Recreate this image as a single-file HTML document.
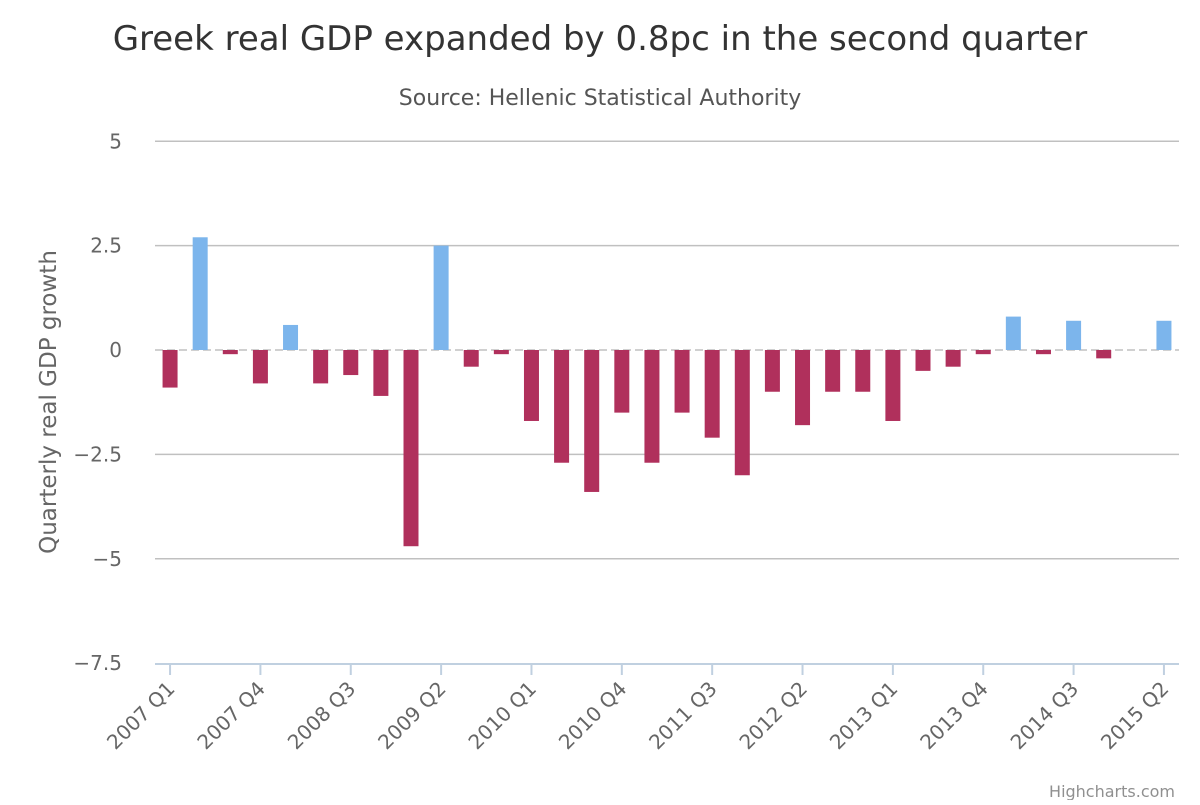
<!DOCTYPE html>
<html><head><meta charset="utf-8">
<style>
body{margin:0;background:#fff;font-family:"Liberation Sans","DejaVu Sans",sans-serif;}
svg text{font-family:"DejaVu Sans","Liberation Sans",sans-serif;}
</style></head>
<body>
<svg id="chart" width="1200" height="800" xmlns="http://www.w3.org/2000/svg">
<rect width="1200" height="800" fill="#fff"/>
<text x="600" y="50" text-anchor="middle" font-size="34" fill="#333">Greek real GDP expanded by 0.8pc in the second quarter</text>
<text x="600" y="105" text-anchor="middle" font-size="22" fill="#555">Source: Hellenic Statistical Authority</text>
<text transform="translate(56,402) rotate(-90)" text-anchor="middle" font-size="23" fill="#666">Quarterly real GDP growth</text>
<text x="1175" y="797" text-anchor="end" font-size="16" fill="#909090">Highcharts.com</text>
<g id="grid"></g><g id="bars"></g><g id="xaxis"></g>
</svg>
<script>
const categories=["2007 Q1","2007 Q2","2007 Q3","2007 Q4","2008 Q1","2008 Q2","2008 Q3","2008 Q4","2009 Q1","2009 Q2","2009 Q3","2009 Q4","2010 Q1","2010 Q2","2010 Q3","2010 Q4","2011 Q1","2011 Q2","2011 Q3","2011 Q4","2012 Q1","2012 Q2","2012 Q3","2012 Q4","2013 Q1","2013 Q2","2013 Q3","2013 Q4","2014 Q1","2014 Q2","2014 Q3","2014 Q4","2015 Q1","2015 Q2"];
const growth=[-0.9,2.7,-0.1,-0.8,0.6,-0.8,-0.6,-1.1,-4.7,2.5,-0.4,-0.1,-1.7,-2.7,-3.4,-1.5,-2.7,-1.5,-2.1,-3.0,-1.0,-1.8,-1.0,-1.0,-1.7,-0.5,-0.4,-0.1,0.8,-0.1,0.7,-0.2,0,0.7];
const yTicks=[5,2.5,0,-2.5,-5,-7.5];
const yTickLabels=["5","2.5","0","−2.5","−5","−7.5"];
const NS="http://www.w3.org/2000/svg";
const L=155,R=1179,Y0=350,PPU=41.75;
const step=(R-L)/categories.length;
const x=i=>L+step*(i+0.5);
const y=v=>Y0-v*PPU;
function mk(t,a,p){const e=document.createElementNS(NS,t);for(const k in a)e.setAttribute(k,a[k]);p.appendChild(e);return e;}
const grid=document.getElementById('grid'),bars=document.getElementById('bars'),xa=document.getElementById('xaxis');
yTicks.forEach((v,i)=>{
  if(v>-7.5){const g=mk('line',{x1:L,x2:R,y1:y(v),y2:y(v),stroke:'#c0c0c0','stroke-width':1.5},grid);
  if(v===0)g.setAttribute('stroke-dasharray','8,4');
  
  }
  const t=mk('text',{x:122,y:y(v)+7,'text-anchor':'end','font-size':20,fill:'#666'},grid);
  t.textContent=yTickLabels[i];
  
  
});
growth.forEach((v,i)=>{
  const top=Math.min(y(v),y(0)),h=Math.max(Math.abs(y(v)-y(0)),v===0?0:2);
  const r=mk('rect',{x:x(i)-7.5,y:top,width:15,height:h,fill:v>=0?'#7cb5ec':'#b0305c'},bars);
  
  
});
const ax=mk('line',{x1:L,x2:R,y1:664,y2:664,stroke:'#c0d0e0','stroke-width':2},xa);


categories.forEach((c,i)=>{
  if(i%3!==0)return;
  const tk=mk('line',{x1:x(i),x2:x(i),y1:664,y2:675,stroke:'#c0d0e0','stroke-width':2},xa);
  
  
  const t=mk('text',{transform:`translate(${x(i)+6},${690}) rotate(-45)`,'text-anchor':'end','font-size':20,fill:'#666'},xa);
  t.textContent=c;
  
  
});
</script>
</body></html>
